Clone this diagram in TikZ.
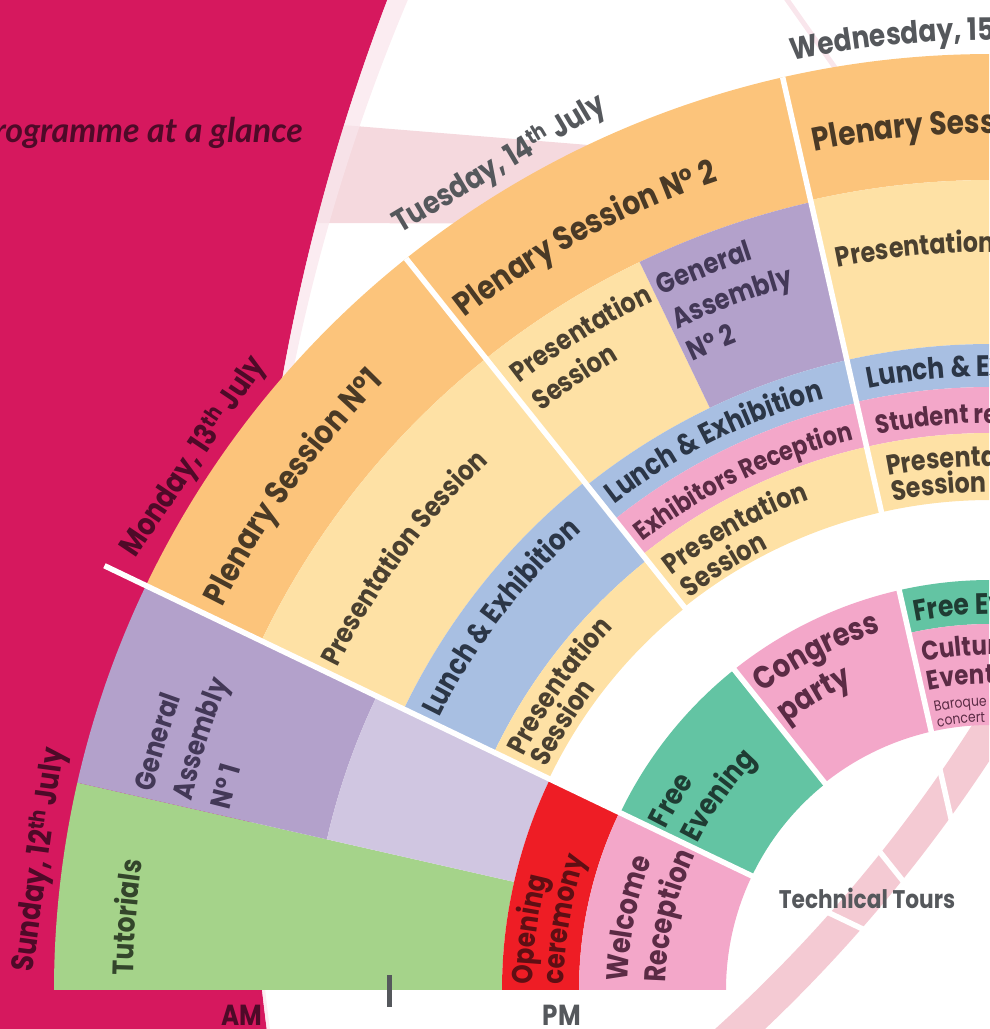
\documentclass[tikz,border=0pt]{standalone}
\usepackage{fontspec}
\setmainfont{Lato}
\newfontfamily\lbf{Poppins}[FakeStretch=0.85]
\usetikzlibrary{calc,decorations.text}
\definecolor{crim}{HTML}{D6185E}
\definecolor{paleband}{HTML}{F5D9DE}
\definecolor{ttband}{HTML}{F4CAD3}
\definecolor{ringc}{HTML}{F9E6EC}
\definecolor{orng}{HTML}{FCC47B}
\definecolor{ylw}{HTML}{FEE1A5}
\definecolor{blu}{HTML}{A8BFE2}
\definecolor{purp}{HTML}{B3A1CB}
\definecolor{lpurp}{HTML}{D0C6E1}
\definecolor{grn}{HTML}{A5D38A}
\definecolor{redc}{HTML}{EE1D25}
\definecolor{pnk}{HTML}{F3A7C9}
\definecolor{cTeal}{HTML}{63C4A3}
\definecolor{tOr}{HTML}{4A3A26}
\definecolor{tYl}{HTML}{4A4030}
\definecolor{tBl}{HTML}{2B3647}
\definecolor{tPu}{HTML}{433857}
\definecolor{tGr}{HTML}{33452B}
\definecolor{tRe}{HTML}{5E0F14}
\definecolor{tPk}{HTML}{5B2B45}
\definecolor{tTe}{HTML}{1F3C33}
\definecolor{tGy}{HTML}{55585C}
\definecolor{tMa}{HTML}{4E0A28}
\newcommand\lblPl{\lbf\bfseries\fontsize{33}{33}\selectfont\color{tOr}}
\newcommand\lblPs{\lbf\bfseries\fontsize{28}{28}\selectfont\color{tYl}}
\newcommand\lblPsm{\lbf\bfseries\fontsize{28}{28}\selectfont\color{tYl}}
\newcommand\lblBl{\lbf\bfseries\fontsize{29.5}{29.5}\selectfont\color{tBl}}
\newcommand\lblEx{\lbf\bfseries\fontsize{26.5}{26.5}\selectfont\color{tPk}}
\newcommand\lblPu{\lbf\bfseries\fontsize{28.5}{28.5}\selectfont\color{tPu}}
\newcommand\lblGr{\lbf\bfseries\fontsize{29.5}{29.5}\selectfont\color{tGr}}
\newcommand\lblRe{\lbf\bfseries\fontsize{29}{29}\selectfont\color{tRe}}
\newcommand\lblPk{\lbf\bfseries\fontsize{30}{30}\selectfont\color{tPk}}
\newcommand\lblCg{\lbf\bfseries\fontsize{32}{32}\selectfont\color{tPk}}
\newcommand\lblTe{\lbf\bfseries\fontsize{29.5}{29.5}\selectfont\color{tTe}}
\newcommand\lblCu{\lbf\bfseries\fontsize{27}{27}\selectfont\color{tPk}}
\newcommand\lblBa{\lbf\fontsize{14.5}{14.5}\selectfont\color{tPk}}
\newcommand\lblWd{\lbf\bfseries\fontsize{31}{31}\selectfont\color{tGy}}
% annular sector: colour, start angle, end angle, outer r, inner r
\newcommand\sect[5]{\fill[#1] ($(C)+(#2:#4pt)$) arc[start angle=#2, end angle=#3, radius=#4pt] -- ($(C)+(#3:#5pt)$) arc[start angle=#3, end angle=#2, radius=#5pt] -- cycle;}
% curved label: format, text, baseline radius, start (deg from left), end
\newcommand\lab[5]{\path[decorate,decoration={text along path, text align=left, text={|#1|#2}}] ($(C)+({180-#4}:#3pt)$) arc[start angle={180-#4}, end angle={180-#5}, radius=#3pt];}
\tikzset{
  sep/.style={draw=white, line width=5.5pt},
  day/.style={font=\lbf\bfseries\fontsize{31}{31}\selectfont, inner sep=0pt},
  ampm/.style={font=\lbf\bfseries\fontsize{29}{29}\selectfont, inner sep=0pt},
  tick/.style={draw=tGy, line width=5pt},
}
\begin{document}
\begin{tikzpicture}[x=1pt,y=1pt]
\useasboundingbox (0,0) rectangle (989,1029);
\clip (0,0) rectangle (989,1029);
\coordinate (C) at (990,39);
\coordinate (T) at (-280,1101);
% background decorations
\fill[paleband] (330,905) -- (650,879) -- (650,805) -- (300,806) -- cycle;
\fill[ttband, even odd rule] (T) circle[radius=1518pt] (T) circle[radius=1484pt];
\draw[ringc, line width=5pt] (776,1045) -- (836,960);
\fill[crim, even odd rule] (-50,-50) rectangle (1100,1100) (2365,275) circle[radius=2116pt];
\fill[ringc, opacity=0.75, even odd rule] (2365,275) circle[radius=2116pt] (2234,260) circle[radius=1981pt];
\node[anchor=base east, inner sep=0pt, font=\fontsize{34}{34}\selectfont\bfseries\itshape, text=tMa] (prog) at (303,886) {Programme at a glance};
% Sunday
\sect{grn}{180}{167.2}{936}{488}
\sect{purp}{167.2}{154.4}{936}{680}
\sect{lpurp}{167.2}{154.4}{680}{488}
\sect{redc}{180}{154.4}{488}{411}
\sect{pnk}{180}{154.4}{411}{264}
% Monday
\sect{orng}{154.4}{128.6}{936}{808}
\sect{ylw}{154.4}{128.6}{808}{650}
\sect{blu}{154.4}{128.6}{650}{550}
\sect{ylw}{154.4}{128.6}{550}{489}
\sect{cTeal}{154.4}{128.6}{410}{264}
% Tuesday
\sect{orng}{128.6}{102.8}{936}{808}
\sect{ylw}{128.6}{115.7}{808}{646}
\sect{purp}{115.7}{102.8}{808}{646}
\sect{blu}{128.6}{102.8}{646}{602}
\sect{pnk}{128.6}{102.8}{602}{557}
\sect{ylw}{128.6}{102.8}{557}{490}
\sect{pnk}{128.6}{102.8}{410}{265}
% Wednesday
\sect{orng}{102.8}{60}{936}{810}
\sect{ylw}{102.8}{60}{810}{646}
\sect{blu}{102.8}{60}{646}{603}
\sect{pnk}{102.8}{60}{603}{557}
\sect{ylw}{102.8}{60}{557}{490}
\sect{cTeal}{102.8}{60}{410}{366}
\sect{pnk}{102.8}{60}{366}{265}
% separators
\draw[sep] ($(C)+(154.4:110pt)$) -- ($(C)+(154.4:982pt)$);
\draw[sep] ($(C)+(128.6:110pt)$) -- ($(C)+(128.6:936pt)$);
\draw[sep] ($(C)+(102.8:110pt)$) -- ($(C)+(102.8:936pt)$);
% Sunday labels
\lab{\lblGr}{Tutorials}{857}{1.0}{40}
\lab{\lblPu}{General}{860}{13.3}{50}
\lab{\lblPu}{Assembly}{821}{13.3}{50}
\lab{\lblPu}{N° 1}{781}{13.3}{50}
\lab{\lblRe}{Opening}{457}{0.7}{60}
\lab{\lblRe}{ceremony}{426}{0.7}{60}
\lab{\lblPk}{Welcome}{362}{1.3}{70}
\lab{\lblPk}{Reception}{324}{1.3}{70}
% Monday labels
\lab{\lblPl}{Plenary Session N°1}{858}{26.5}{70}
\lab{\lblPs}{Presentation Session}{728}{26.3}{70}
\lab{\lblBl}{Lunch {\&} Exhibition}{614}{26.3}{70}
\lab{\lblPsm}{Presentation}{522}{26.6}{70}
\lab{\lblPsm}{Session}{496}{26.6}{70}
\lab{\lblTe}{Free}{362}{26.4}{80}
\lab{\lblTe}{Evening}{327}{26.6}{80}
% Tuesday labels
\lab{\lblPl}{Plenary Session N° 2}{853}{52.0}{95}
\lab{\lblPsm}{Presentation}{767}{52.2}{95}
\lab{\lblPsm}{Session}{732}{52.2}{95}
\lab{\lblPu}{General}{768}{64.7}{100}
\lab{\lblPu}{Assembly}{731}{64.7}{100}
\lab{\lblPu}{N° 2}{695}{64.7}{100}
\lab{\lblBl}{Lunch {\&} Exhibition}{614}{52.3}{100}
\lab{\lblEx}{Exhibitors Reception}{567}{52.2}{100}
\lab{\lblPsm}{Presentation}{523}{52.5}{100}
\lab{\lblPsm}{Session}{494}{52.5}{100}
\lab{\lblCg}{Congress}{374}{52.6}{110}
\lab{\lblCg}{party}{335}{52.7}{110}
% Wednesday labels
\lab{\lblPl}{Plenary Session N° 3}{857}{78.2}{120}
\lab{\lblPs}{Presentation Session}{738}{78.1}{120}
\lab{\lblBl}{Lunch {\&} Exhibition}{614}{78.6}{130}
\lab{\lblEx}{Student reception}{567}{78.6}{130}
\lab{\lblPsm}{Presentation}{524}{78.8}{130}
\lab{\lblPsm}{Session}{498}{78.8}{130}
\lab{\lblTe}{Free Evening}{376}{78.5}{150}
\lab{\lblCu}{Cultural}{335}{78.5}{150}
\lab{\lblCu}{Events}{306}{78.5}{150}
\lab{\lblBa}{Baroque}{284}{78.8}{160}
\lab{\lblBa}{concert}{268}{78.8}{160}
% day labels
\node[day, text=tMa, rotate=82.2] (sun) at ($(C)+(172.2:959pt)$) {Sunday, 12\textsuperscript{th} July};
\node[day, text=tMa, rotate=56.2] (mon) at ($(C)+(146.2:958pt)$) {Monday, 13\textsuperscript{th} July};
\node[day, text=tGy, rotate=30.7] (tue) at ($(C)+(120.7:960pt)$) {Tuesday, 14\textsuperscript{th} July};
\lab{\lblWd}{Wednesday, 15}{950}{78.0}{120}
% bottom
\node[ampm, text=tMa] (am) at (242,14) {AM};
\node[ampm, text=tGy] (pm) at (562,14) {PM};
\draw[tick] (389,54) -- (389,22);
\node[font=\lbf\bfseries\fontsize{25.5}{25.5}\selectfont, text=tGy, inner sep=0pt] (tt) at (867,131) {Technical Tours};
\end{tikzpicture}
\end{document}
